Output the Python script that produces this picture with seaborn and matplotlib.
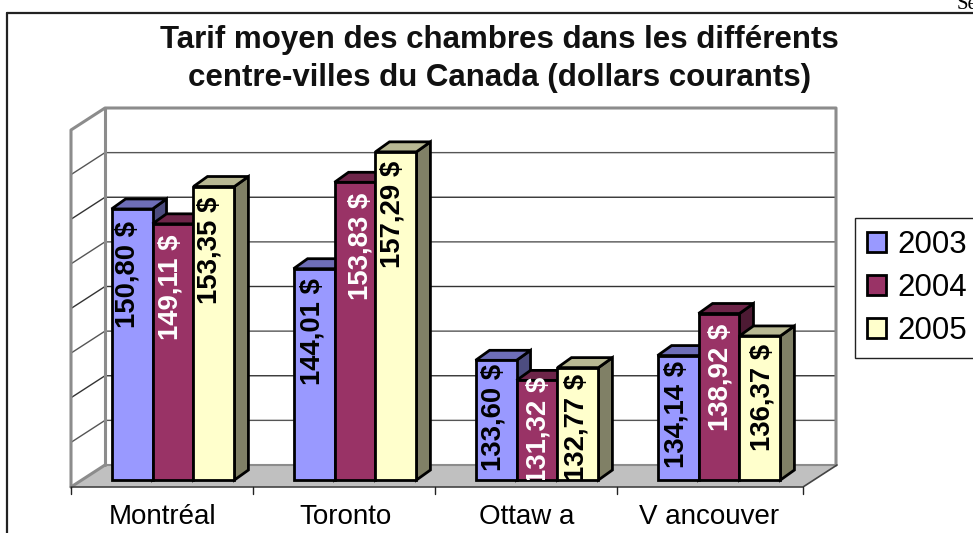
import matplotlib
matplotlib.use("Agg")
import matplotlib.pyplot as plt
import matplotlib.colors as mcolors
from matplotlib.patches import Polygon, Rectangle
from matplotlib.transforms import ScaledTranslation
import pandas as pd
import seaborn as sns

villes = ["Montréal", "Toronto", "Ottaw a", "V ancouver"]
annees = ["2003", "2004", "2005"]
tarifs_2003 = [150.80, 144.01, 133.60, 134.14]
tarifs_2004 = [149.11, 153.83, 131.32, 138.92]
tarifs_2005 = [153.35, 157.29, 132.77, 136.37]
couleurs = ["#9999FF", "#993366", "#FFFFCC"]
couleurs_texte = ["black", "white", "black"]
titre = "Tarif moyen des chambres dans les différents\ncentre-villes du Canada (dollars courants)"

W, H = 973, 533
YMIN, YMAX = 120, 160
AX_H = 352

sns.set_style("white")
plt.rcParams["font.family"] = ["Liberation Sans", "DejaVu Sans"]

df = pd.DataFrame({
    "ville": villes * 3,
    "annee": sum([[a] * 4 for a in annees], []),
    "tarif": tarifs_2003 + tarifs_2004 + tarifs_2005,
})

fig = plt.figure(figsize=(W / 100, H / 100), dpi=100)

# fond en pixels : murs, plancher, quadrillage
bg = fig.add_axes([0, 0, 1, 1], zorder=0)
bg.set_xlim(0, W)
bg.set_ylim(H, 0)
bg.axis("off")
bg.add_patch(Polygon([(71, 487), (105, 465), (837, 465), (803, 487)], fc="#C0C0C0", ec="none"))
for i in range(1, 8):
    y = 108 + i * 357 / 8
    c = "#555555" if i % 2 else "#333333"
    bg.plot([71, 105, 836], [y + 22, y, y], color=c, lw=1)
gris = "#8C8C8C"
bg.plot([71, 71, 105, 836, 836], [487, 130, 108, 108, 465], color=gris, lw=2.2)
bg.plot([105, 105], [108, 465], color=gris, lw=2.2)
bg.plot([71, 105], [487, 465], color=gris, lw=2.2)
bg.plot([105, 836], [465, 465], color=gris, lw=1.5)
bg.plot([71, 803, 837], [487, 487, 465], color="#444444", lw=1.2)
for x in [71, 253, 435, 617, 803]:
    bg.plot([x, x], [487, 494], color="#222222", lw=1)
bg.plot([7, 7], [533, 13], color="#222222", lw=1.6)
bg.plot([7, 973], [13, 13], color="#222222", lw=1.6)
bg.text(957, 9, "Se", family="Liberation Serif", fontsize=15, color="black")
bg.text(499, 59, titre, fontsize=22.5, fontweight="bold", ha="center", va="center",
        linespacing=1.37, color="#111111")

# barres
ax = fig.add_axes([82 / W, (H - 480) / H, 728 / W, AX_H / H], zorder=1)
ax.patch.set_alpha(0)
sns.barplot(data=df, x="ville", y="tarif", hue="annee", palette=couleurs, width=0.675,
            gap=0, edgecolor="black", linewidth=2, saturation=1, ax=ax)
ax.set_xlim(-0.5, 3.5)
ax.set_ylim(YMIN, YMAX)
ax.set_xlabel("")
ax.set_ylabel("")
ax.set_yticks([])
sns.despine(ax=ax, left=True, bottom=True)
ax.tick_params(axis="x", length=0, pad=17, labelsize=20, labelcolor="black")
decal = ScaledTranslation(-10 / 100, 0, fig.dpi_scale_trans)
for lab in ax.get_xticklabels():
    lab.set_transform(lab.get_transform() + decal)

# profondeur des barres
dx = 14 / 728 * 4
dy = 10 / AX_H * (YMAX - YMIN)


def ombre(couleur, f):
    r, g, b = mcolors.to_rgb(couleur)
    return (r * f, g * f, b * f)


# decalages des etiquettes (px) par annee puis ville
etiq_dx = [[-5, -2, -3, -2], [-3, 5, 2, 2], [-4, -3, -1, 3]]
etiq_dy = [12, 9, 4, 5], [11, 10, -4, 10], [10, 9, 6, 8]

z = 3
for k, cont in enumerate(ax.containers):
    for j, bar in enumerate(cont):
        val = bar.get_height()
        bar.set_y(YMIN)
        bar.set_height(val - YMIN)
        x0, x1 = bar.get_x(), bar.get_x() + bar.get_width()
        c = couleurs[k]
        side = Polygon([(x1, YMIN), (x1 + dx, YMIN + dy), (x1 + dx, val + dy), (x1, val)],
                       fc=ombre(c, 0.5), ec="black", lw=2, zorder=z, clip_on=False)
        top = Polygon([(x0, val), (x0 + dx, val + dy), (x1 + dx, val + dy), (x1, val)],
                      fc=ombre(c, 0.72), ec="black", lw=2, zorder=z + 0.1, clip_on=False)
        ax.add_patch(side)
        ax.add_patch(top)
        bar.set_zorder(z + 0.2)
        bar.set_clip_on(False)
        z += 1

# etiquettes au dessus de tout, coupees au bas de la barre
for k, cont in enumerate(ax.containers):
    for j, bar in enumerate(cont):
        val = bar.get_y() + bar.get_height()
        xc = bar.get_x() + bar.get_width() / 2 + etiq_dx[k][j] / 728 * 4
        yt = val - etiq_dy[k][j] / AX_H * (YMAX - YMIN)
        txt = ("%.2f $" % val).replace(".", ",")
        t = ax.text(xc, yt, txt, rotation=90, ha="center", va="top", fontsize=19.8,
                    fontweight="bold", color=couleurs_texte[k], zorder=50, clip_on=True)
        t.set_clip_path(Rectangle((bar.get_x() - 0.05, YMIN), bar.get_width() + 0.1, val - YMIN + 3,
                                  transform=ax.transData))

# legende
handles, labels = ax.get_legend_handles_labels()
leg = ax.legend(handles, labels, loc="upper left", bbox_to_anchor=(855 / W, 1 - 218 / H),
                bbox_transform=fig.transFigure, fontsize=22.5, frameon=True, fancybox=False,
                edgecolor="#222222", framealpha=1, borderpad=0.38, labelspacing=0.42,
                handlelength=0.6, handleheight=0.6, handletextpad=0.38, borderaxespad=0)
leg.get_frame().set_linewidth(1)
leg.set_zorder(60)
for h in leg.get_patches():
    h.set_edgecolor("black")
    h.set_linewidth(2)
for tx in leg.get_texts():
    tx.set_color("black")

fig.savefig("out.png", dpi=100)
plt.close(fig)
